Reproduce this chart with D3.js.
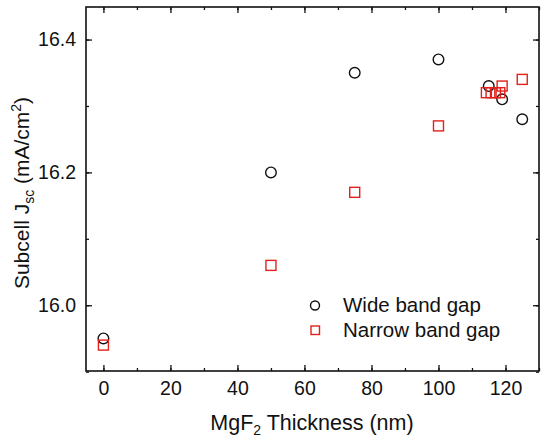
<!DOCTYPE html>
<html>
<head>
<meta charset="utf-8">
<script src="https://cdn.jsdelivr.net/npm/d3@7"></script>
<style>
body { margin: 0; background: #fff; }
text { font-family: "Liberation Sans", Arial, sans-serif; fill: #111; }
</style>
</head>
<body>
<svg id="chart" width="550" height="440"></svg>
<script>
// thickness (nm) and subcell Jsc (mA/cm2)
var wideX = [0, 50, 75, 100, 115, 119, 125]
var wideY = [15.95, 16.20, 16.35, 16.37, 16.33, 16.31, 16.28]
var narrowX = [0, 50, 75, 100, 114.3, 115.7, 117, 118.3, 119, 125]
var narrowY = [15.94, 16.06, 16.17, 16.27, 16.32, 16.32, 16.32, 16.32, 16.33, 16.34]
var xTicks = [0, 20, 40, 60, 80, 100, 120]
var yTicks = [16.0, 16.2, 16.4]
var seriesNames = ['Wide band gap', 'Narrow band gap']

var red = '#e3201c'
var svg = d3.select('#chart')
var pl = 86, pr = 539, pt = 7, pb = 371

var x = d3.scaleLinear().domain([-5.2, 130]).range([pl, pr])
var y = d3.scaleLinear().domain([15.901, 16.449]).range([pb, pt])

var xMinor = d3.range(0, 131, 10)
var yMinor = [15.9, 16.0, 16.1, 16.2, 16.3, 16.4]

function tickAxis(axis, g) {
    g.call(axis)
    g.select('.domain').remove()
    g.selectAll('line').attr('stroke', '#111').attr('stroke-width', 1.3)
}

// minor ticks (all four sides)
tickAxis(d3.axisBottom(x).tickValues(xMinor).tickSize(-3).tickFormat(''),
    svg.append('g').attr('transform', 'translate(0,' + pb + ')'))
tickAxis(d3.axisTop(x).tickValues(xMinor).tickSize(-3).tickFormat(''),
    svg.append('g').attr('transform', 'translate(0,' + pt + ')'))
tickAxis(d3.axisLeft(y).tickValues(yMinor).tickSize(-3).tickFormat(''),
    svg.append('g').attr('transform', 'translate(' + pl + ',0)'))
tickAxis(d3.axisRight(y).tickValues(yMinor).tickSize(-3).tickFormat(''),
    svg.append('g').attr('transform', 'translate(' + pr + ',0)'))

// major ticks with labels
var gx = svg.append('g').attr('transform', 'translate(0,' + pb + ')')
tickAxis(d3.axisBottom(x).tickValues(xTicks).tickSize(-6).tickPadding(10).tickFormat(d3.format('d')), gx)
gx.selectAll('text').attr('font-size', 19.5).attr('fill', '#111')
tickAxis(d3.axisTop(x).tickValues(xTicks).tickSize(-6).tickFormat(''),
    svg.append('g').attr('transform', 'translate(0,' + pt + ')'))
var gy = svg.append('g').attr('transform', 'translate(' + pl + ',0)')
tickAxis(d3.axisLeft(y).tickValues(yTicks).tickSize(-6).tickPadding(10).tickFormat(d3.format('.1f')), gy)
gy.selectAll('text').attr('font-size', 19.5).attr('fill', '#111')
tickAxis(d3.axisRight(y).tickValues(yTicks).tickSize(-6).tickFormat(''),
    svg.append('g').attr('transform', 'translate(' + pr + ',0)'))

// frame
svg.append('rect')
    .attr('x', pl).attr('y', pt)
    .attr('width', pr - pl).attr('height', pb - pt)
    .attr('fill', 'none').attr('stroke', '#111').attr('stroke-width', 1.6)

// data
var wide = wideX.map(function(d, i) { return {x: d, y: wideY[i]} })
var narrow = narrowX.map(function(d, i) { return {x: d, y: narrowY[i]} })

svg.append('g').selectAll('circle')
    .data(wide)
    .enter()
        .append('circle')
        .attr('cx', function(d) { return x(d.x) })
        .attr('cy', function(d) { return y(d.y) })
        .attr('r', 5.3)
        .attr('fill', 'none')
        .attr('stroke', '#111')
        .attr('stroke-width', 1.4)

var s = 10
svg.append('g').selectAll('rect')
    .data(narrow)
    .enter()
        .append('rect')
        .attr('x', function(d) { return x(d.x) - s / 2 })
        .attr('y', function(d) { return y(d.y) - s / 2 })
        .attr('width', s).attr('height', s)
        .attr('fill', 'none')
        .attr('stroke', red)
        .attr('stroke-width', 1.4)

// legend
var lg = svg.append('g')
lg.append('circle').attr('cx', 315).attr('cy', 305.5).attr('r', 4.5)
    .attr('fill', 'none').attr('stroke', '#111').attr('stroke-width', 1.4)
lg.append('rect').attr('x', 311).attr('y', 326).attr('width', 8.5).attr('height', 8.5)
    .attr('fill', 'none').attr('stroke', red).attr('stroke-width', 1.4)
lg.selectAll('text')
    .data(seriesNames)
    .enter()
        .append('text')
        .attr('x', 343)
        .attr('y', function(d, i) { return 312 + i * 25 })
        .attr('font-size', 20.5)
        .text(function(d) { return d })

// axis titles
var xt = svg.append('text').attr('x', 312).attr('y', 430).attr('text-anchor', 'middle').attr('font-size', 21.5)
xt.append('tspan').text('MgF')
xt.append('tspan').attr('font-size', 14).attr('dy', 5).text('2')
xt.append('tspan').attr('dy', -5).text(' Thickness (nm)')

var yt = svg.append('text')
    .attr('transform', 'translate(29,193) rotate(-90)')
    .attr('text-anchor', 'middle').attr('font-size', 21)
yt.append('tspan').text('Subcell J')
yt.append('tspan').attr('font-size', 14).attr('dy', 5).text('sc')
yt.append('tspan').attr('dy', -5).text(' (mA/cm')
yt.append('tspan').attr('font-size', 14).attr('dy', -8).text('2')
yt.append('tspan').attr('dy', 8).text(')')
</script>
</body>
</html>
